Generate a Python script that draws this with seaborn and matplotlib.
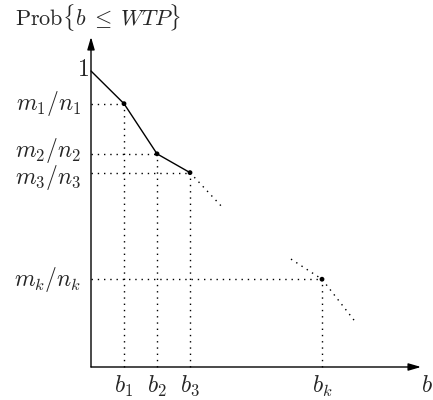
import seaborn as sns
import matplotlib.pyplot as plt
import pandas as pd

# bid levels and observed acceptance shares (diagram units)
b_labels = ['$b_1$', '$b_2$', '$b_3$', '$b_k$']
b_vals = [1.0, 2.0, 3.0, 7.0]
p_labels = ['$m_1/n_1$', '$m_2/n_2$', '$m_3/n_3$', '$m_k/n_k$']
p_vals = [7.98, 6.46, 5.89, 2.66]
p_start = 8.97  # value at b = 0 ("1")

# dotted continuation pieces
tail3_x = [3.0, 4.0]
tail3_y = [5.89, 4.82]
tailk_x = [6.06, 7.0, 7.97]
tailk_y = [3.27, 2.66, 1.42]

sns.set_style('white')
plt.rcParams['mathtext.fontset'] = 'cm'
plt.rcParams['font.family'] = ['DejaVu Serif']

fig = plt.figure(figsize=(4.33, 4.00), dpi=100)
ax = fig.add_axes([0, 0, 1, 1])
ax.set_xlim(-91 / 33, (433 - 91) / 33)
ax.set_ylim(-33 / 33, 367 / 33)
ax.axis('off')

# solid curve through the first three points
curve = pd.DataFrame({'b': [0.0] + b_vals[:3], 'p': [p_start] + p_vals[:3]})
sns.lineplot(data=curve, x='b', y='p', color='black', linewidth=1.0, sort=False, ax=ax)
pts = pd.DataFrame({'b': b_vals, 'p': p_vals})
sns.scatterplot(data=pts, x='b', y='p', color='black', s=12, edgecolor='none', ax=ax, zorder=5)

dot = (0, (1, 3.5))
ax.plot(tail3_x, tail3_y, color='black', lw=1.0, linestyle=dot)
ax.plot(tailk_x, tailk_y, color='black', lw=1.0, linestyle=dot)

# guide lines to axes
for bx, py in zip(b_vals, p_vals):
    ax.plot([0, bx], [py, py], color='black', lw=1.0, linestyle=dot)
    ax.plot([bx, bx], [0, py], color='black', lw=1.0, linestyle=dot)

# axes with arrows
arrow = dict(arrowstyle='-|>,head_length=0.75,head_width=0.22', color='black', lw=1.0,
             shrinkA=0, shrinkB=0)
ax.annotate('', xy=(10.0, 0), xytext=(0, 0), arrowprops=arrow)
ax.annotate('', xy=(0, 10.0), xytext=(0, 0), arrowprops=arrow)

fs = 17
label_shift = [0.0, 0.1, -0.15, 0.0]
for bx, lab in zip(b_vals, b_labels):
    ax.text(bx, -0.2, lab, ha='center', va='top', fontsize=fs)
for py, lab, dy in zip(p_vals, p_labels, label_shift):
    ax.text(-0.3, py + dy, lab, ha='right', va='center', fontsize=fs)
ax.text(-0.05, p_start + 0.05, '$1$', ha='right', va='center', fontsize=fs)
ax.text(10.18, -0.55, '$b$', ha='center', va='center', fontsize=fs)
ax.text(0.21, 10.58, r'$\mathrm{Prob}\{b\;\leq\;W\!\,T\!\,P\}$', ha='center', va='center', fontsize=16)

plt.savefig('out.png', dpi=100)
